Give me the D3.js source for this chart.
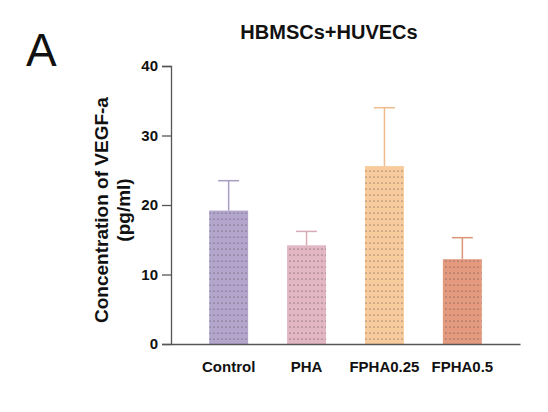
<!DOCTYPE html>
<html>
<head>
<meta charset="utf-8">
<script src="https://d3js.org/d3.v7.min.js"></script>
<style>
  body { margin: 0; background: #fff; }
  text { font-family: "Liberation Sans", Arial, sans-serif; }
</style>
</head>
<body>
<div id="chart"></div>
<script>
// data
const groups = ['Control', 'PHA', 'FPHA0.25', 'FPHA0.5'];
const means = [19.2, 14.2, 25.6, 12.2];
const errors = [4.3, 2.0, 8.4, 3.1];
const yTicks = [0, 10, 20, 30, 40];
const fills = ['#b3a6cc', '#e2b6c3', '#f8cb9c', '#e49a7e'];
const errColors = ['#a89cc3', '#d9a9b6', '#f0bb8c', '#dc9578'];

const width = 548, height = 412;
const svg = d3.select('#chart')
    .append('svg')
    .attr('width', width)
    .attr('height', height);

// dotted pattern per bar
const defs = svg.append('defs');
fills.forEach(function(c, i) {
    const p = defs.append('pattern')
        .attr('id', 'dots' + i)
        .attr('patternUnits', 'userSpaceOnUse')
        .attr('width', 4)
        .attr('height', 6);
    p.append('rect').attr('width', 4).attr('height', 6).attr('fill', c);
    p.append('circle').attr('cx', 2).attr('cy', 3).attr('r', 0.6).attr('fill', '#4a3f4a');
});

const xScale = d3.scaleBand()
    .domain(groups)
    .range([171, 520])
    .paddingInner(0.5)
    .paddingOuter(0.49);

const yScale = d3.scaleLinear()
    .domain([0, 40])
    .range([344, 66]);

// error bars (drawn first, bars sit on top)
const err = svg.selectAll('.err')
    .data(groups)
    .enter()
    .append('g')
    .attr('class', 'err');

err.append('line')
    .attr('x1', d => xScale(d) + xScale.bandwidth() / 2)
    .attr('x2', d => xScale(d) + xScale.bandwidth() / 2)
    .attr('y1', (d, i) => yScale(means[i]))
    .attr('y2', (d, i) => yScale(means[i] + errors[i]))
    .attr('stroke', (d, i) => errColors[i])
    .attr('stroke-width', 1.5);

err.append('line')
    .attr('x1', d => xScale(d) + xScale.bandwidth() / 2 - 10.5)
    .attr('x2', d => xScale(d) + xScale.bandwidth() / 2 + 10.5)
    .attr('y1', (d, i) => yScale(means[i] + errors[i]))
    .attr('y2', (d, i) => yScale(means[i] + errors[i]))
    .attr('stroke', (d, i) => errColors[i])
    .attr('stroke-width', 1.5);

svg.selectAll('.bar')
    .data(groups)
    .enter()
    .append('rect')
    .attr('class', 'bar')
    .attr('x', d => xScale(d))
    .attr('width', xScale.bandwidth())
    .attr('y', (d, i) => yScale(means[i]))
    .attr('height', (d, i) => yScale(0) - yScale(means[i]))
    .attr('fill', (d, i) => 'url(#dots' + i + ')');

// axes
const yAxis = svg.append('g')
    .attr('transform', 'translate(171, 0)')
    .call(d3.axisLeft(yScale).tickValues(yTicks).tickSize(9).tickPadding(4));

const xAxis = svg.append('g')
    .attr('transform', 'translate(0, 344)')
    .call(d3.axisBottom(xScale).tickSize(0).tickPadding(17).tickSizeOuter(0));

[yAxis, xAxis].forEach(function(ax) {
    ax.select('.domain').attr('stroke', '#555').attr('stroke-width', 1.3);
    ax.selectAll('.tick line').attr('stroke', '#555').attr('stroke-width', 1.3);
    ax.selectAll('.tick text')
        .attr('fill', '#111')
        .style('font-family', '"Liberation Sans", Arial, sans-serif')
        .style('font-size', '15px')
        .style('font-weight', 'bold');
});

// labels
svg.append('text')
    .attr('x', 329)
    .attr('y', 39)
    .attr('text-anchor', 'middle')
    .attr('font-size', '20px')
    .attr('font-weight', 'bold')
    .attr('fill', '#111')
    .text('HBMSCs+HUVECs');

svg.append('text')
    .attr('x', 26)
    .attr('y', 66)
    .attr('font-size', '46px')
    .attr('fill', '#111')
    .text('A');

const yLabel = svg.append('text')
    .attr('transform', 'translate(108, 210) rotate(-90)')
    .attr('text-anchor', 'middle')
    .attr('font-size', '19px')
    .attr('font-weight', 'bold')
    .attr('fill', '#111');

yLabel.append('tspan').attr('x', 0).attr('dy', 0).text('Concentration of VEGF-a');
yLabel.append('tspan').attr('x', 0).attr('dy', '1.15em').text('(pg/ml)');
</script>
</body>
</html>
